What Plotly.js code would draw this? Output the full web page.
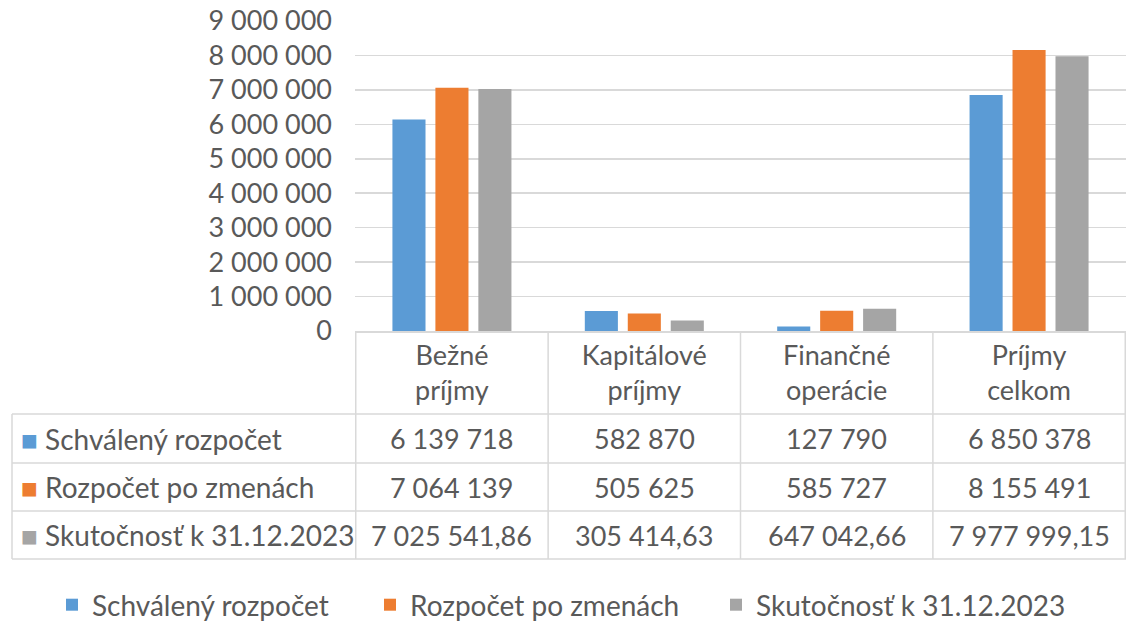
<!DOCTYPE html>
<html>
<head>
<meta charset="utf-8">
<script src="https://cdn.plot.ly/plotly-3.0.1.min.js"></script>
<style>
  html, body { margin: 0; padding: 0; background: #fff; }
  #chart { width: 1126px; height: 621px; }
</style>
</head>
<body>
<div id="chart"></div>
<script>
// kategórie a série
const categories = ['Bežné<br>príjmy', 'Kapitálové<br>príjmy', 'Finančné<br>operácie', 'Príjmy<br>celkom'];
const seriesNames = ['Schválený rozpočet', 'Rozpočet po zmenách', 'Skutočnosť k 31.12.2023'];
const schvaleny = [6139718, 582870, 127790, 6850378];
const poZmenach = [7064139, 505625, 585727, 8155491];
const skutocnost = [7025541.86, 305414.63, 647042.66, 7977999.15];
const decimals = [0, 0, 2];   // počet desatinných miest v tabuľke
const colors = ['#5B9BD5', '#ED7D31', '#A5A5A5'];

const series = [schvaleny, poZmenach, skutocnost];
const textColor = '#595959';
const lineColor = '#D9D9D9';
const fontSize = 27;
const labelSize = 28;

// 7025541.86 -> "7 025 541,86"
function fmt(v, dec) {
    const parts = v.toFixed(dec).split('.');
    const intPart = parts[0].replace(/\B(?=(\d{3})+(?!\d))/g, ' ');
    return parts[1] ? intPart + ',' + parts[1] : intPart;
}

// rozmery v pixeloch
const W = 1126, H = 621;
const mL = 355, mR = 0, mT = 21, mB = 290;
const plotH = H - mT - mB;
const plotW = W - mL - mR;
const py = p => (H - mB - p) / plotH;   // pixel -> paper y
const px = p => (p - mL) / plotW;       // pixel -> paper x

const rowLines = [414, 463, 511, 559];
const rowCenters = [438.5, 487, 535];
const tableLeft = 12;
const legendLeft = [52, 370, 716];   // každá položka legendy zvlášť
const legendIds = ['legend', 'legend2', 'legend3'];

const traces = series.map((vals, s) => ({
    x: categories,
    y: vals,
    name: seriesNames[s],
    type: 'bar',
    legend: legendIds[s],
    marker: { color: colors[s] },
    hoverinfo: 'skip'
}));

const shapes = [];
rowLines.forEach(r => shapes.push({
    type: 'line', xref: 'paper', yref: 'paper',
    x0: px(tableLeft), x1: 1, y0: py(r), y1: py(r),
    line: { color: lineColor, width: 1.5 }
}));
shapes.push({
    type: 'line', xref: 'paper', yref: 'paper',
    x0: px(tableLeft), x1: px(tableLeft), y0: py(rowLines[0]), y1: py(rowLines[3]),
    line: { color: lineColor, width: 1.5 }
});
for (let i = 0; i <= categories.length; i++) {
    shapes.push({
        type: 'line', xref: 'x', yref: 'paper',
        x0: i - 0.5, x1: i - 0.5, y0: 0, y1: py(rowLines[3]),
        line: { color: lineColor, width: 1.5 }
    });
}

const annotations = [];
series.forEach((vals, s) => {
    annotations.push({
        xref: 'paper', yref: 'paper',
        x: px(19), y: py(rowCenters[s]),
        xanchor: 'left', yanchor: 'middle', showarrow: false,
        text: '<span style="color:' + colors[s] + '">■</span> ' + seriesNames[s],
        font: { size: labelSize, color: textColor }
    });
    vals.forEach((v, i) => annotations.push({
        xref: 'x', yref: 'paper',
        x: i, y: py(rowCenters[s]),
        xanchor: 'center', yanchor: 'middle', showarrow: false,
        text: fmt(v, decimals[s]),
        font: { size: fontSize, color: textColor }
    }));
});

const layout = {
    width: W, height: H,
    margin: { l: mL, r: mR, t: mT, b: mB, autoexpand: false },
    font: { family: 'Lato, "Open Sans", sans-serif', size: fontSize, color: textColor },
    separators: ', ',
    barmode: 'group',
    bargap: 0.33,
    bargroupgap: 0.23,
    paper_bgcolor: '#fff',
    plot_bgcolor: '#fff',
    showlegend: true,
    xaxis: {
        showline: true, linecolor: lineColor, linewidth: 1.5,
        showgrid: false, ticks: '',
        tickfont: { size: fontSize, color: textColor },
        fixedrange: true
    },
    yaxis: {
        range: [0, 9000000], dtick: 1000000,
        tickformat: ',d',
        showgrid: true, gridcolor: lineColor, gridwidth: 1.5,
        zeroline: false, showline: false, ticks: '',
        ticklabelstandoff: 22,
        tickfont: { size: fontSize, color: textColor },
        fixedrange: true
    },
    shapes: shapes,
    annotations: annotations
};

legendIds.forEach((id, s) => {
    layout[id] = {
        orientation: 'h',
        x: px(legendLeft[s]), xanchor: 'left',
        y: py(605), yanchor: 'middle',
        font: { size: labelSize, color: textColor }
    };
});

Plotly.newPlot('chart', traces, layout, { staticPlot: true });
</script>
</body>
</html>
